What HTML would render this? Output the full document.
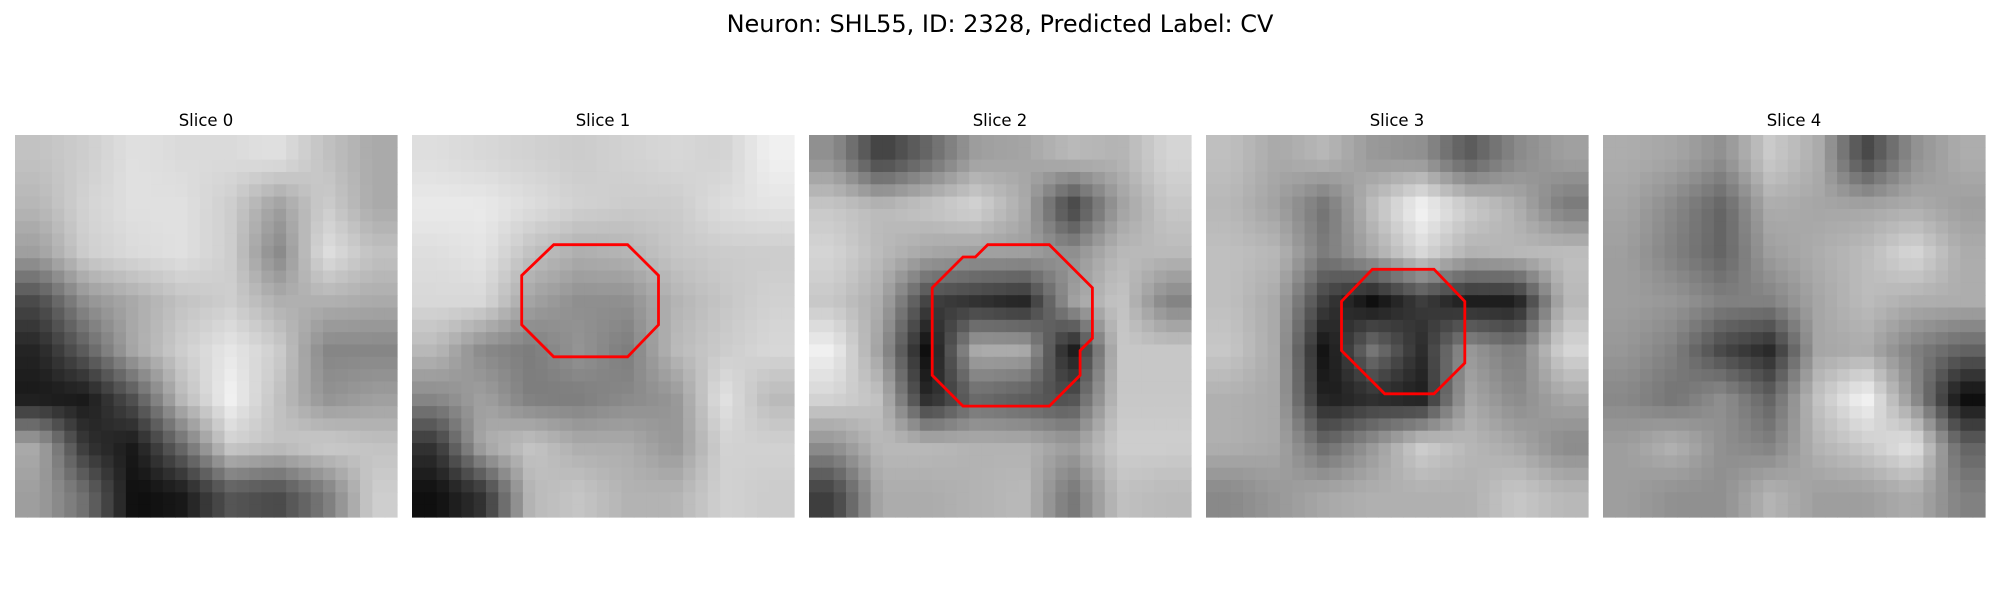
<!DOCTYPE html>
<html><head><meta charset="utf-8"><style>
html,body{margin:0;padding:0;background:#fff;}
#root{position:relative;width:2000px;height:600px;overflow:hidden;font-family:"DejaVu Sans","Liberation Sans",sans-serif;}
</style></head><body>
<div id="root">
<svg id="fig" width="2000" height="600" xmlns="http://www.w3.org/2000/svg">
<text x="1000" y="32" text-anchor="middle" font-size="24" fill="#000" font-family="DejaVu Sans, Liberation Sans, sans-serif">Neuron: SHL55, ID: 2328, Predicted Label: CV</text>
</svg>
</div>
<script>
const sliceTitles = ["Slice 0","Slice 1","Slice 2","Slice 3","Slice 4"];
const panelX = [15, 412, 809, 1206, 1603];
const slice0 = [
[190,200,215,210,210,215,190,170],
[180,205,215,215,200,160,200,170],
[160,200,210,215,200,140,215,190],
[90,150,170,190,200,175,175,170],
[60,110,170,200,220,200,140,140],
[50,50,100,185,230,190,150,160],
[170,70,50,120,200,190,200,190],
[160,120,40,50,100,90,130,200]];
const slice1 = [
[200,195,190,185,190,195,190,215],
[210,210,200,190,185,185,200,205],
[200,205,175,160,165,180,185,185],
[195,195,150,135,135,165,180,190],
[170,130,120,140,120,170,185,195],
[130,150,120,120,130,140,205,170],
[60,160,180,160,160,140,190,190],
[30,60,170,180,165,165,190,185]];
const slice2 = [
[140,80,110,150,155,170,165,190],
[180,170,180,190,160,80,150,180],
[190,170,155,150,150,140,170,170],
[180,160,80,70,60,150,180,130],
[210,150,40,160,160,50,180,180],
[190,175,60,110,100,90,180,180],
[140,170,170,165,165,150,185,185],
[80,160,160,165,170,120,175,170]];
const slice3 = [
[185,170,180,160,155,120,150,165],
[180,165,135,185,220,195,175,140],
[185,180,140,170,200,175,180,185],
[185,170,100,70,100,80,80,180],
[190,170,70,140,90,160,140,200],
[175,170,80,90,80,170,150,170],
[175,170,130,160,195,180,170,150],
[150,160,170,175,175,175,190,180]];
const slice4 = [
[170,165,150,190,170,100,150,170],
[165,145,120,170,165,165,170,160],
[160,140,120,160,170,180,200,170],
[160,155,140,140,165,180,170,170],
[155,140,100,80,165,170,140,120],
[145,130,150,120,185,220,150,60],
[160,175,150,140,175,190,210,120],
[160,150,150,175,160,160,170,140]];
const maps = [slice0, slice1, slice2, slice3, slice4];
const contour1 = [[11.5,8.9],[17.5,8.9],[20.0,11.4],[20.0,15.4],[17.5,18.0],[11.5,18.0],[8.9,15.4],[8.9,11.4]];
const contour2 = [[14.5,8.9],[19.5,8.9],[23.0,12.4],[23.0,16.5],[22.0,17.5],[22.0,19.5],[19.5,22.0],[12.5,22.0],[10.0,19.5],[10.0,12.4],[12.5,9.9],[13.5,9.9]];
const contour3 = [[13.5,10.9],[18.5,10.9],[21.0,13.5],[21.0,18.5],[18.5,21.0],[14.5,21.0],[11.0,17.5],[11.0,13.5]];
const contours = [null, contour1, contour2, contour3, null];

const NS = "http://www.w3.org/2000/svg";
const svg = document.getElementById('fig');
const N = 31, SIZE = 382, TOP = 135;
const cell = SIZE / N;
function sample(m, u, v){
  const R = m.length, C = m[0].length;
  let fx = u*C - 0.5, fy = v*R - 0.5;
  fx = Math.max(0, Math.min(C-1, fx)); fy = Math.max(0, Math.min(R-1, fy));
  const x0 = Math.floor(fx), y0 = Math.floor(fy);
  const x1 = Math.min(C-1, x0+1), y1 = Math.min(R-1, y0+1);
  const ax = fx - x0, ay = fy - y0;
  return (m[y0][x0]*(1-ax)+m[y0][x1]*ax)*(1-ay) + (m[y1][x0]*(1-ax)+m[y1][x1]*ax)*ay;
}
function sx(p, i){ return panelX[p] + i*cell; }
function sy(j){ return TOP + j*cell; }
maps.forEach((m, p) => {
  const g = document.createElementNS(NS, 'g');
  
  
  const vals = [];
  let lo = 1e9, hi = -1e9;
  for (let j = 0; j < N; j++) for (let i = 0; i < N; i++) {
    const v = sample(m, (i+0.5)/N, (j+0.5)/N);
    vals.push(v); lo = Math.min(lo, v); hi = Math.max(hi, v);
  }
  for (let j = 0; j < N; j++) for (let i = 0; i < N; i++) {
    const v = vals[j*N+i];
    const val = Math.round(15 + (v - lo) / (hi - lo) * 225);
    const r = document.createElementNS(NS, 'rect');
    r.setAttribute('x', sx(p, i).toFixed(2));
    r.setAttribute('y', sy(j).toFixed(2));
    r.setAttribute('width', (cell+0.6).toFixed(2));
    r.setAttribute('height', (cell+0.6).toFixed(2));
    r.setAttribute('fill', `rgb(${val},${val},${val})`);
    g.appendChild(r);
  }
  svg.appendChild(g);
  const t = document.createElementNS(NS, 'text');
  
  
  t.setAttribute('x', panelX[p] + SIZE/2);
  t.setAttribute('y', 126);
  t.setAttribute('text-anchor', 'middle');
  t.setAttribute('font-size', '16.5');
  t.setAttribute('font-family', 'DejaVu Sans, Liberation Sans, sans-serif');
  t.textContent = sliceTitles[p];
  svg.appendChild(t);
  const c = contours[p];
  if (c) {
    const poly = document.createElementNS(NS, 'polygon');
    
    
    poly.setAttribute('points', c.map(q => sx(p, q[0]).toFixed(1) + ',' + sy(q[1]).toFixed(1)).join(' '));
    poly.setAttribute('fill', 'none');
    poly.setAttribute('stroke', '#ff0000');
    poly.setAttribute('stroke-width', '2.8');
    svg.appendChild(poly);
  }
});
</script>
</body></html>
